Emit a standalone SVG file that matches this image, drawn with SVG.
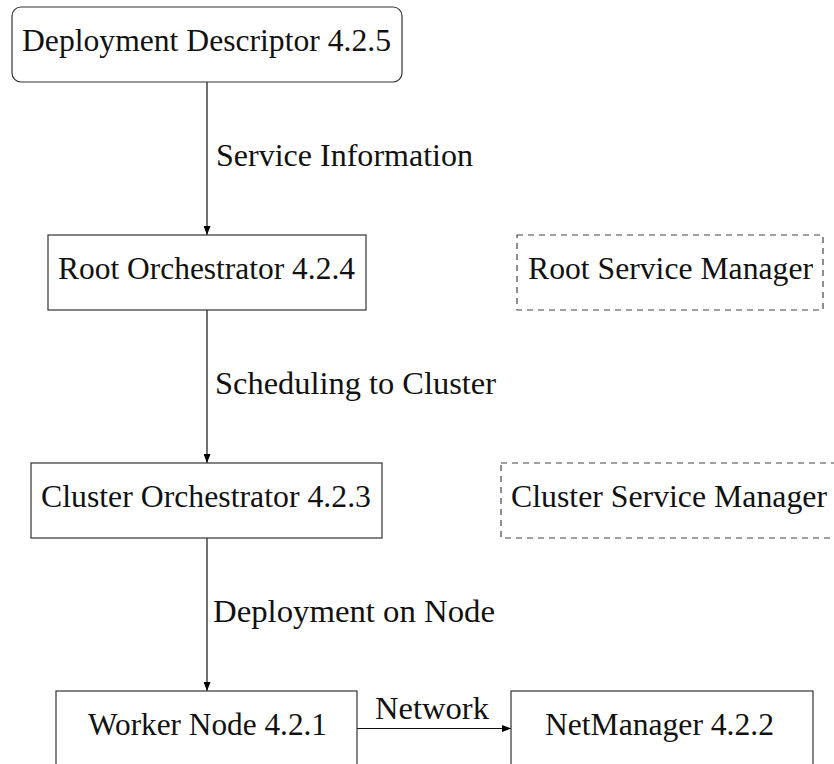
<svg xmlns="http://www.w3.org/2000/svg" width="834" height="764" viewBox="0 0 834 764">
  <defs>
    <marker id="arrow" viewBox="0 0 9 7" refX="9" refY="3.5" markerWidth="9" markerHeight="7" markerUnits="userSpaceOnUse" orient="auto">
      <path d="M0,0 L9,3.5 L0,7 Z" fill="#000"/>
    </marker>
  </defs>
  <style>
    text { font-family: "Liberation Serif", "DejaVu Serif", serif; font-size: 31px; fill: #111; }
    .c { text-anchor: middle; }
    .box { fill: #fff; stroke: #333; stroke-width: 1.2; }
    .dash { fill: none; stroke: #444; stroke-width: 1.2; stroke-dasharray: 6 5; }
    .edge { fill: none; stroke: #111; stroke-width: 1.2; marker-end: url(#arrow); }
  </style>
  <rect width="834" height="764" fill="#fff"/>

  <g id="connectors">
    <line class="edge" x1="207" y1="82" x2="207" y2="235"/>
    <line class="edge" x1="207" y1="310" x2="207" y2="463"/>
    <line class="edge" x1="207" y1="538" x2="207" y2="691"/>
    <line class="edge" x1="357" y1="728.5" x2="511" y2="728.5"/>
    <text x="216" y="166" textLength="257" lengthAdjust="spacingAndGlyphs">Service Information</text>
    <text x="215" y="394" textLength="281" lengthAdjust="spacingAndGlyphs">Scheduling to Cluster</text>
    <text x="213" y="622" textLength="282" lengthAdjust="spacingAndGlyphs">Deployment on Node</text>
    <text x="432" y="719" class="c" textLength="114" lengthAdjust="spacingAndGlyphs">Network</text>
  </g>

  <g id="deployment-descriptor">
    <rect class="box" x="12" y="7" width="390" height="75" rx="9"/>
    <text x="206.5" y="51" class="c" textLength="369" lengthAdjust="spacingAndGlyphs">Deployment Descriptor 4.2.5</text>
  </g>

  <g id="root-orchestrator">
    <rect class="box" x="48" y="235" width="318" height="75"/>
    <text x="206.5" y="279" class="c" textLength="297" lengthAdjust="spacingAndGlyphs">Root Orchestrator 4.2.4</text>
  </g>

  <g id="root-service-manager">
    <rect class="dash" x="517" y="235" width="306" height="75"/>
    <text x="670.5" y="279" class="c" textLength="285" lengthAdjust="spacingAndGlyphs">Root Service Manager</text>
  </g>

  <g id="cluster-orchestrator">
    <rect class="box" x="31" y="463" width="351" height="75"/>
    <text x="206" y="507" class="c" textLength="330" lengthAdjust="spacingAndGlyphs">Cluster Orchestrator 4.2.3</text>
  </g>

  <g id="cluster-service-manager">
    <rect class="dash" x="501" y="463" width="336" height="75"/>
    <text x="669" y="507" class="c" textLength="316" lengthAdjust="spacingAndGlyphs">Cluster Service Manager</text>
  </g>

  <g id="worker-node">
    <rect class="box" x="56" y="691" width="301" height="75"/>
    <text x="207.5" y="735" class="c" textLength="239" lengthAdjust="spacingAndGlyphs">Worker Node 4.2.1</text>
  </g>

  <g id="netmanager">
    <rect class="box" x="511" y="691" width="302" height="75"/>
    <text x="659.5" y="735" class="c" textLength="229" lengthAdjust="spacingAndGlyphs">NetManager 4.2.2</text>
  </g>
</svg>
